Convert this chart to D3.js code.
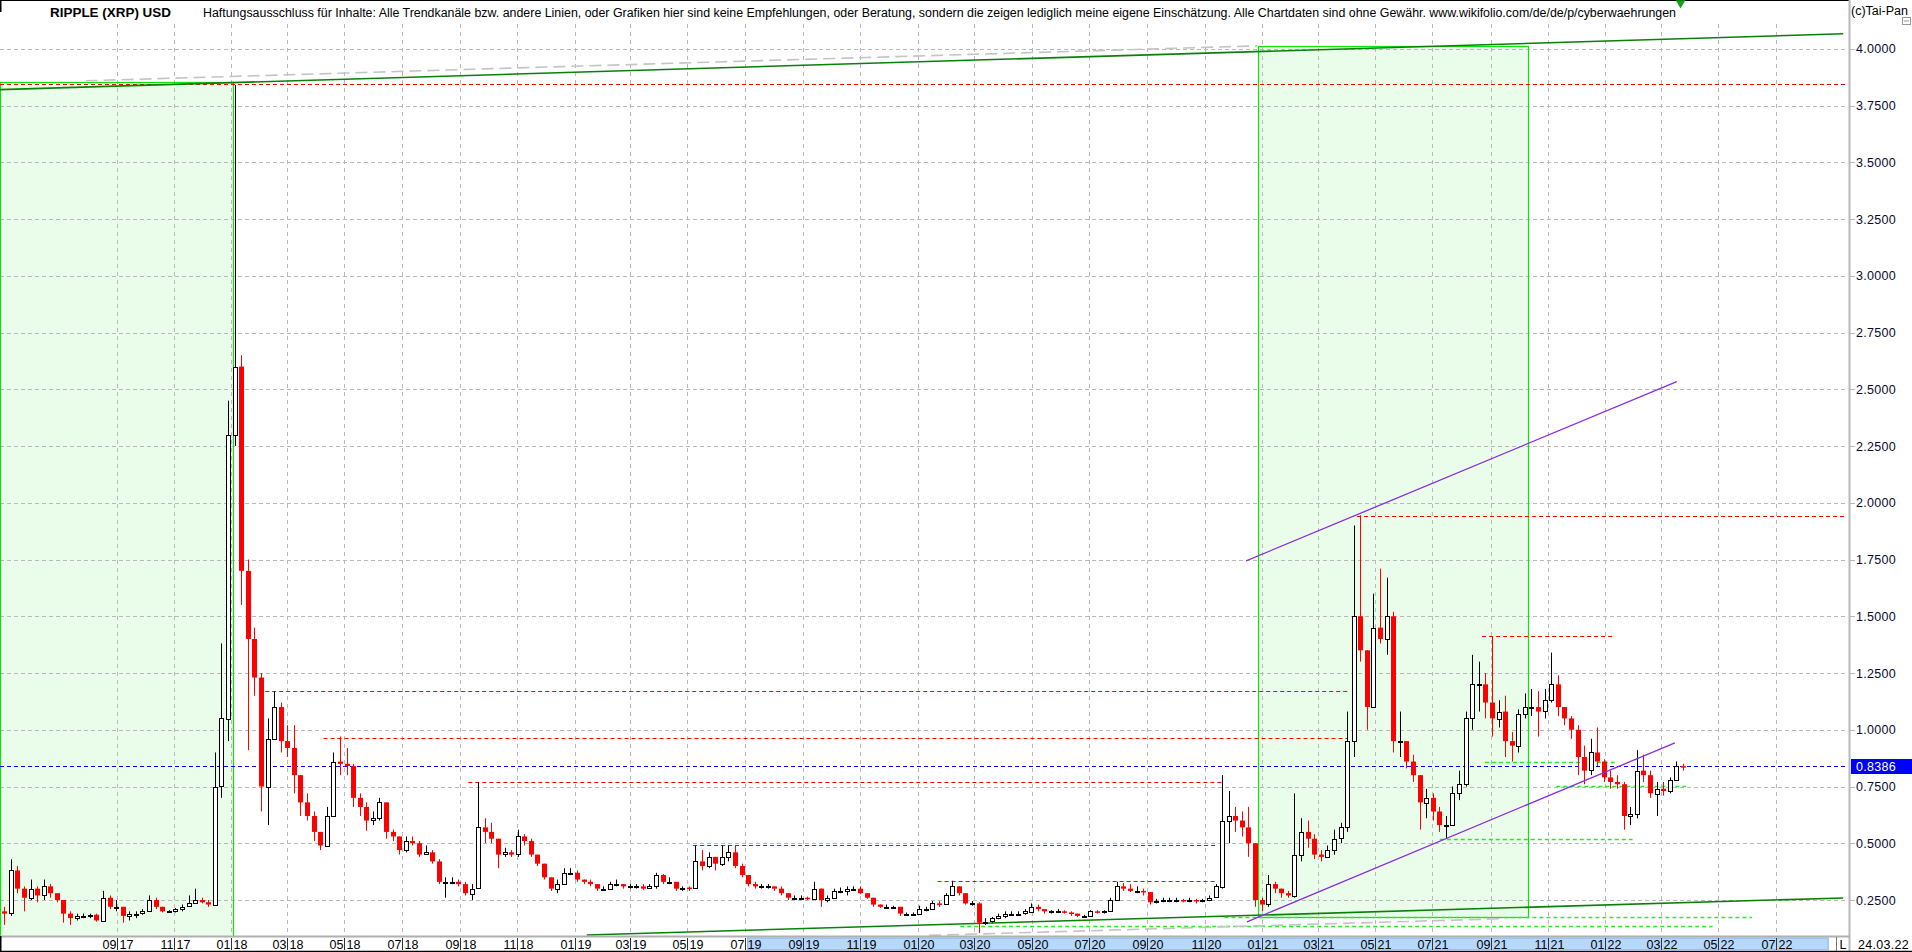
<!DOCTYPE html>
<html><head><meta charset="utf-8">
<script src="https://cdn.jsdelivr.net/npm/d3@7"></script>
<style>
html,body{margin:0;padding:0;background:#fff;overflow:hidden}
svg{display:block;font-family:"Liberation Sans",Arial,sans-serif}
</style></head><body>
<svg id="c" width="1912" height="952"></svg>
<script>
// ---------- DATA (weekly candles, Monday of each week) ----------
const firstOpen = 0.20;
const closes = [
0.19,0.38,0.30,0.26,0.30,0.27,0.31,0.28,0.25,0.19,0.17,0.18,0.18,0.185,0.16,0.26,
0.22,0.22,0.18,0.19,0.19,0.20,0.25,0.22,0.20,0.20,0.21,0.22,0.235,0.25,0.24,0.23,
0.75,1.05,2.30,2.60,1.70,1.40,1.23,0.75,0.96,1.10,0.95,0.92,0.80,0.68,0.62,0.55,
0.49,0.62,0.86,0.85,0.84,0.70,0.66,0.60,0.61,0.68,0.55,0.53,0.47,0.51,0.50,0.45,
0.46,0.42,0.33,0.33,0.33,0.32,0.28,0.30,0.57,0.55,0.52,0.45,0.46,0.45,0.53,0.51,
0.45,0.41,0.35,0.30,0.32,0.37,0.37,0.34,0.33,0.32,0.30,0.30,0.32,0.32,0.31,0.31,
0.31,0.30,0.31,0.36,0.33,0.33,0.30,0.305,0.30,0.42,0.40,0.44,0.41,0.44,0.46,0.40,
0.36,0.32,0.31,0.31,0.31,0.30,0.28,0.26,0.26,0.26,0.255,0.30,0.25,0.26,0.29,0.29,
0.30,0.30,0.28,0.26,0.23,0.22,0.22,0.22,0.19,0.19,0.19,0.21,0.21,0.235,0.23,0.27,
0.31,0.28,0.235,0.235,0.15,0.155,0.17,0.18,0.19,0.19,0.19,0.20,0.22,0.21,0.20,0.20,
0.20,0.195,0.19,0.18,0.18,0.20,0.195,0.20,0.25,0.31,0.30,0.29,0.29,0.285,0.24,0.245,
0.25,0.25,0.25,0.245,0.25,0.245,0.25,0.26,0.31,0.60,0.62,0.60,0.57,0.50,0.25,0.23,
0.32,0.30,0.28,0.27,0.45,0.55,0.52,0.45,0.44,0.47,0.52,0.57,0.95,1.50,1.35,1.10,
1.45,1.40,1.50,0.95,0.95,0.86,0.80,0.68,0.70,0.64,0.58,0.58,0.72,0.76,1.05,1.20,
1.20,1.12,1.05,1.08,0.95,0.93,1.07,1.10,1.10,1.08,1.13,1.20,1.10,1.05,1.00,0.88,
0.82,0.90,0.86,0.79,0.77,0.76,0.62,0.63,0.82,0.80,0.72,0.74,0.73,0.78,0.84,0.8386];
const highs = [
0.22,0.43,0.40,0.31,0.34,0.31,0.34,0.32,0.28,0.25,0.20,0.19,0.19,0.19,0.19,0.29,
0.27,0.25,0.22,0.20,0.20,0.21,0.27,0.26,0.22,0.205,0.215,0.23,0.27,0.30,0.26,0.25,
0.90,1.38,2.45,3.84,2.65,1.75,1.45,1.25,1.05,1.17,1.12,1.02,1.02,0.80,0.72,0.64,
0.55,0.66,0.90,0.97,0.92,0.85,0.72,0.68,0.64,0.70,0.68,0.56,0.53,0.53,0.53,0.51,
0.49,0.47,0.43,0.35,0.35,0.34,0.33,0.32,0.77,0.61,0.59,0.52,0.48,0.47,0.56,0.54,
0.52,0.45,0.40,0.35,0.34,0.39,0.39,0.38,0.34,0.34,0.32,0.31,0.33,0.34,0.32,0.32,
0.32,0.32,0.32,0.37,0.365,0.35,0.33,0.31,0.31,0.49,0.47,0.46,0.43,0.49,0.49,0.49,
0.41,0.36,0.33,0.32,0.32,0.31,0.31,0.28,0.27,0.27,0.265,0.33,0.30,0.27,0.30,0.305,
0.31,0.31,0.31,0.28,0.26,0.23,0.23,0.225,0.22,0.195,0.195,0.225,0.22,0.245,0.245,0.28,
0.335,0.31,0.28,0.245,0.24,0.17,0.175,0.19,0.20,0.20,0.20,0.21,0.235,0.23,0.21,0.205,
0.21,0.205,0.20,0.19,0.185,0.205,0.205,0.205,0.26,0.33,0.325,0.32,0.31,0.30,0.28,0.255,
0.26,0.26,0.26,0.255,0.26,0.255,0.255,0.27,0.32,0.80,0.73,0.66,0.64,0.66,0.50,0.26,
0.36,0.33,0.30,0.29,0.72,0.61,0.60,0.54,0.47,0.49,0.56,0.59,1.08,1.90,1.945,1.35,
1.60,1.71,1.67,1.52,1.08,0.93,0.89,0.80,0.74,0.72,0.66,0.62,0.75,0.82,1.08,1.33,
1.30,1.25,1.41,1.13,1.15,0.99,1.09,1.16,1.18,1.17,1.18,1.34,1.24,1.10,1.06,1.02,
0.93,0.96,1.01,0.87,0.82,0.80,0.77,0.66,0.91,0.89,0.82,0.77,0.77,0.79,0.86,0.85];
const lows = [
0.14,0.18,0.28,0.20,0.25,0.24,0.25,0.26,0.24,0.15,0.14,0.16,0.17,0.17,0.155,0.16,
0.21,0.20,0.15,0.16,0.17,0.185,0.20,0.21,0.195,0.195,0.195,0.20,0.22,0.235,0.235,0.22,
0.23,0.70,0.95,2.25,1.55,0.91,1.15,0.64,0.58,0.98,0.90,0.88,0.72,0.62,0.60,0.51,
0.47,0.49,0.62,0.80,0.80,0.66,0.62,0.555,0.58,0.60,0.52,0.51,0.45,0.46,0.49,0.44,
0.45,0.41,0.32,0.26,0.32,0.31,0.27,0.25,0.30,0.50,0.50,0.39,0.44,0.44,0.44,0.49,
0.44,0.40,0.34,0.29,0.28,0.32,0.36,0.33,0.32,0.31,0.29,0.29,0.30,0.31,0.30,0.30,
0.30,0.295,0.30,0.30,0.32,0.32,0.29,0.29,0.29,0.30,0.38,0.39,0.38,0.40,0.42,0.39,
0.35,0.31,0.30,0.30,0.30,0.29,0.27,0.25,0.25,0.25,0.25,0.25,0.22,0.24,0.26,0.28,
0.27,0.29,0.275,0.255,0.22,0.215,0.215,0.21,0.18,0.18,0.185,0.19,0.20,0.21,0.22,0.23,
0.27,0.27,0.23,0.225,0.105,0.14,0.15,0.165,0.17,0.18,0.18,0.185,0.20,0.20,0.19,0.19,
0.195,0.19,0.18,0.175,0.175,0.175,0.19,0.19,0.20,0.25,0.29,0.285,0.28,0.27,0.23,0.235,
0.24,0.24,0.24,0.24,0.24,0.235,0.24,0.245,0.26,0.30,0.50,0.55,0.53,0.44,0.22,0.20,
0.22,0.28,0.26,0.26,0.26,0.42,0.48,0.43,0.42,0.44,0.45,0.50,0.55,0.88,1.30,1.00,
1.10,1.38,1.33,0.90,0.88,0.83,0.77,0.56,0.61,0.60,0.55,0.52,0.58,0.69,0.75,1.00,
1.08,1.05,0.97,1.01,0.88,0.86,0.90,1.05,1.06,0.97,1.05,1.12,1.06,1.02,0.96,0.80,
0.76,0.80,0.84,0.77,0.74,0.74,0.56,0.58,0.61,0.77,0.70,0.62,0.71,0.72,0.78,0.82];

const priceTicks = [0.25,0.5,0.75,1.0,1.25,1.5,1.75,2.0,2.25,2.5,2.75,3.0,3.25,3.5,3.75,4.0];
const lastPrice = 0.8386;
const lastDateLabel = "24.03.22";
const titleText = "RIPPLE (XRP) USD";
const disclaimer = "Haftungsausschluss für Inhalte: Alle Trendkanäle bzw. andere Linien, oder Grafiken hier sind keine Empfehlungen, oder Beratung, sondern die zeigen lediglich meine eigene Einschätzung. Alle Chartdaten sind ohne Gewähr.  www.wikifolio.com/de/de/p/cyberwaehrungen";
const copyright = "(c)Tai-Pan";

// shaded zones: [from, to, topPrice, bottomPrice]
const zones = [["2017-04-30","2018-01-03",3.853,0.0],["2020-12-28","2021-10-11",4.014,0.176]];
// red resistance levels: [price, from, to]
const redLevels = [[3.843,"2017-04-30","2022-09-15"],[1.941,"2021-04-12","2022-09-12"],[1.17,"2018-02-06","2021-04-04"],
  [0.962,"2018-04-09","2021-04-02"],[0.772,"2018-09-10","2020-11-21"],[0.491,"2019-05-07","2020-11-13"],
  [0.335,"2020-01-22","2020-11-14"],[1.412,"2021-08-23","2022-01-09"]];
// bright green support levels: [price, from, to]
const greenLevels = [[0.857,"2021-08-26","2022-01-11"],[0.751,"2021-11-10","2022-03-28"],[0.519,"2021-07-09","2022-01-30"],
  [0.175,"2020-11-22","2022-06-06"],[0.134,"2020-02-15","2022-04-25"]];
// trend lines: [date1, price1, date2, price2]
const greenChannel = [["2017-04-30",3.82,"2022-09-11",4.066],["2019-01-14",0.096,"2022-09-11",0.259]];
const grayChannel = [["2017-07-30",3.859,"2020-12-27",4.013],["2020-01-13",0.094,"2021-09-17",0.168]];
const purpleChannel = [["2020-12-15",1.744,"2022-03-18",2.534],["2020-12-16",0.154,"2022-03-16",0.942]];
const navRange = ["2019-07-04","2022-08-26"];
const markerDate = "2022-03-22";

// ---------- SCALES ----------
const P = d3.timeParse("%Y-%m-%d");
const x = d3.scaleTime().domain([new Date(2017,3,30), new Date(2022,8,15)]).range([0,1847]);
const y = d3.scaleLinear().domain([0.25,4.0]).range([900,48.8]);
const plotR = 1848, plotT = 24, plotB = 936;
const weeks = d3.timeMonday.range(new Date(2017,4,1), new Date(2022,2,22));
const candles = weeks.map((d,i)=>({t:d3.timeHour.offset(d,84), o: i? closes[i-1]: firstOpen, c: closes[i], h: highs[i], l: lows[i]}));
const monthTicks = d3.timeMonth.every(2).range(new Date(2017,8,1), new Date(2022,7,2));

const svg = d3.select("#c");
svg.append("rect").attr("width",1912).attr("height",952).attr("fill","#fff");
svg.append("defs").append("clipPath").attr("id","plot").append("rect")
  .attr("x",0).attr("y",plotT).attr("width",plotR).attr("height",plotB-plotT);
const g = svg.append("g").attr("clip-path","url(#plot)");
const R = v => Math.round(v)+0.5;

// zone fills
g.selectAll(".zf").data(zones).join("rect")
  .attr("x",d=>x(P(d[0]))).attr("y",d=>y(d[2]))
  .attr("width",d=>x(P(d[1]))-x(P(d[0]))).attr("height",d=>y(d[3])-y(d[2]))
  .attr("fill","#eafdea");

// grid
g.selectAll(".hg").data(priceTicks).join("line")
  .attr("x1",0).attr("x2",plotR).attr("y1",d=>R(y(d))).attr("y2",d=>R(y(d)))
  .attr("stroke","#b9b9b9").attr("stroke-dasharray","4,3");
g.selectAll(".vg").data(monthTicks).join("line")
  .attr("x1",d=>R(x(d))).attr("x2",d=>R(x(d))).attr("y1",plotT).attr("y2",plotB)
  .attr("stroke","#b9b9b9").attr("stroke-dasharray","4,4");

// zone borders
g.selectAll(".zb").data(zones).join("rect")
  .attr("x",d=>R(x(P(d[0])))).attr("y",d=>R(y(d[2])))
  .attr("width",d=>Math.round(x(P(d[1]))-x(P(d[0])))).attr("height",d=>Math.round(y(d[3])-y(d[2])))
  .attr("fill","none").attr("stroke","#11e011").attr("stroke-width",1.2);

// horizontal levels
function levels(arr, color, dash, w){
  g.append("g").selectAll("line").data(arr).join("line")
    .attr("x1",d=>x(P(d[1]))).attr("x2",d=>x(P(d[2])))
    .attr("y1",d=>R(y(d[0]))).attr("y2",d=>R(y(d[0])))
    .attr("stroke",color).attr("stroke-width",w).attr("stroke-dasharray",dash);
}
levels(redLevels,"#ff0000","4,3",1);
levels(greenLevels,"#22ee22","4,3",1.6);
g.append("line").attr("x1",0).attr("x2",plotR).attr("y1",R(y(lastPrice))).attr("y2",R(y(lastPrice)))
  .attr("stroke","#0000ff").attr("stroke-dasharray","4,3");

// trend lines
function trends(arr, color, w, dash){
  g.append("g").selectAll("line").data(arr).join("line")
    .attr("x1",d=>x(P(d[0]))).attr("y1",d=>y(d[1])).attr("x2",d=>x(P(d[2]))).attr("y2",d=>y(d[3]))
    .attr("stroke",color).attr("stroke-width",w).attr("stroke-dasharray",dash||null);
}
trends(grayChannel,"#c4c4c4",1.6,"12,6");
trends(greenChannel,"#0a800a",1.6);

// candles
const cg = g.append("g");
candles.forEach(d=>{
  const cx = Math.round(x(d.t));
  const up = d.c >= d.o;
  const col = up ? "#000" : "#ff0000";
  const hi = Math.max(d.h,d.o,d.c), lo = Math.min(d.l,d.o,d.c);
  cg.append("line").attr("x1",cx+0.5).attr("x2",cx+0.5).attr("y1",y(hi)).attr("y2",y(lo))
    .attr("stroke",col).attr("stroke-width",1);
  const top = y(Math.max(d.o,d.c)), bot = y(Math.min(d.o,d.c));
  if(up){
    cg.append("rect").attr("x",cx-1.5).attr("y",Math.round(top)+0.5).attr("width",4)
      .attr("height",Math.max(1,Math.round(bot-top))).attr("fill","#fff").attr("stroke","#000").attr("stroke-width",1);
  } else {
    cg.append("rect").attr("x",cx-2).attr("y",top).attr("width",5)
      .attr("height",Math.max(1.5,bot-top)).attr("fill","#ff0000");
  }
});

trends(purpleChannel,"#8a2be2",1.3);

// ---------- frame / header ----------
svg.append("line").attr("x1",0).attr("x2",1850).attr("y1",0.5).attr("y2",0.5).attr("stroke","#000");
svg.append("line").attr("x1",0.5).attr("x2",0.5).attr("y1",0).attr("y2",12).attr("stroke","#000").attr("stroke-width",2);
svg.append("text").attr("x",50).attr("y",17).attr("font-size",13.5).attr("font-weight","bold").attr("fill","#000")
  .attr("textLength",121).attr("lengthAdjust","spacingAndGlyphs").text(titleText);
svg.append("text").attr("x",203).attr("y",17).attr("font-size",12.5).attr("fill","#000")
  .attr("textLength",1473).attr("lengthAdjust","spacingAndGlyphs").text(disclaimer);
svg.append("path").attr("d",d3.symbol(d3.symbolTriangle,40)()).attr("transform",`translate(${x(P(markerDate))},3) rotate(180)`)
  .attr("fill","#18a018");

// right axis column
svg.append("line").attr("x1",1849.5).attr("x2",1849.5).attr("y1",0).attr("y2",952).attr("stroke","#b8b8b8").attr("stroke-width",2);
svg.append("text").attr("x",1851).attr("y",15).attr("font-size",12.5).attr("fill","#000").text(copyright);
svg.append("rect").attr("x",1902.5).attr("y",17.5).attr("width",8).attr("height",7).attr("fill","#fff").attr("stroke","#999");
svg.append("line").attr("x1",1904).attr("x2",1909).attr("y1",21).attr("y2",21).attr("stroke","#999");
const ya = svg.append("g");
ya.selectAll("line").data(priceTicks).join("line")
  .attr("x1",1850).attr("x2",1855).attr("y1",d=>R(y(d))).attr("y2",d=>R(y(d))).attr("stroke","#b9b9b9");
ya.selectAll("text").data(priceTicks).join("text")
  .attr("x",1856).attr("y",d=>y(d)+4.5).attr("font-size",12.5).attr("fill","#0a0a30").attr("letter-spacing",0.3)
  .text(d=>d3.format(".4f")(d));
svg.append("rect").attr("x",1851).attr("y",R(y(lastPrice))-7.5).attr("width",61).attr("height",15).attr("fill","#0000ff");
svg.append("text").attr("x",1856).attr("y",y(lastPrice)+5).attr("font-size",12.5).attr("fill","#fff").attr("letter-spacing",0.3)
  .text(d3.format(".4f")(lastPrice));

// bottom axis band
const xa = svg.append("g");
xa.append("line").attr("x1",0).attr("x2",1850).attr("y1",936.5).attr("y2",936.5).attr("stroke","#b0b0b0").attr("stroke-width",2);
xa.append("line").attr("x1",0).attr("x2",1912).attr("y1",951.5).attr("y2",951.5).attr("stroke","#000").attr("stroke-width",1.5);
xa.append("line").attr("x1",0.5).attr("x2",0.5).attr("y1",936).attr("y2",952).attr("stroke","#000").attr("stroke-width",2);
xa.append("rect").attr("x",x(P(navRange[0]))).attr("y",938).attr("width",x(P(navRange[1]))-x(P(navRange[0]))).attr("height",12)
  .attr("fill","#b5d8fb").attr("stroke","#86b2e6");
xa.selectAll(".tk").data(monthTicks).join("line")
  .attr("x1",d=>R(x(d))).attr("x2",d=>R(x(d))).attr("y1",938).attr("y2",950).attr("stroke","#333");
xa.selectAll(".mm").data(monthTicks).join("text")
  .attr("x",d=>R(x(d))-1).attr("y",948.5).attr("text-anchor","end").attr("font-size",12.5).attr("fill","#000")
  .text(d=>d3.timeFormat("%m")(d));
xa.selectAll(".yy").data(monthTicks).join("text")
  .attr("x",d=>R(x(d))+2).attr("y",948.5).attr("font-size",12.5).attr("fill","#000")
  .text(d=>d3.timeFormat("%y")(d));
xa.append("line").attr("x1",1836.5).attr("x2",1836.5).attr("y1",937).attr("y2",951).attr("stroke","#777");
xa.append("text").attr("x",1843).attr("y",948.5).attr("text-anchor","middle").attr("font-size",12.5).attr("fill","#000").text("L");
xa.append("text").attr("x",1858).attr("y",948.5).attr("font-size",12.5).attr("fill","#000").attr("letter-spacing",0.3).text(lastDateLabel);
</script>
</body></html>
